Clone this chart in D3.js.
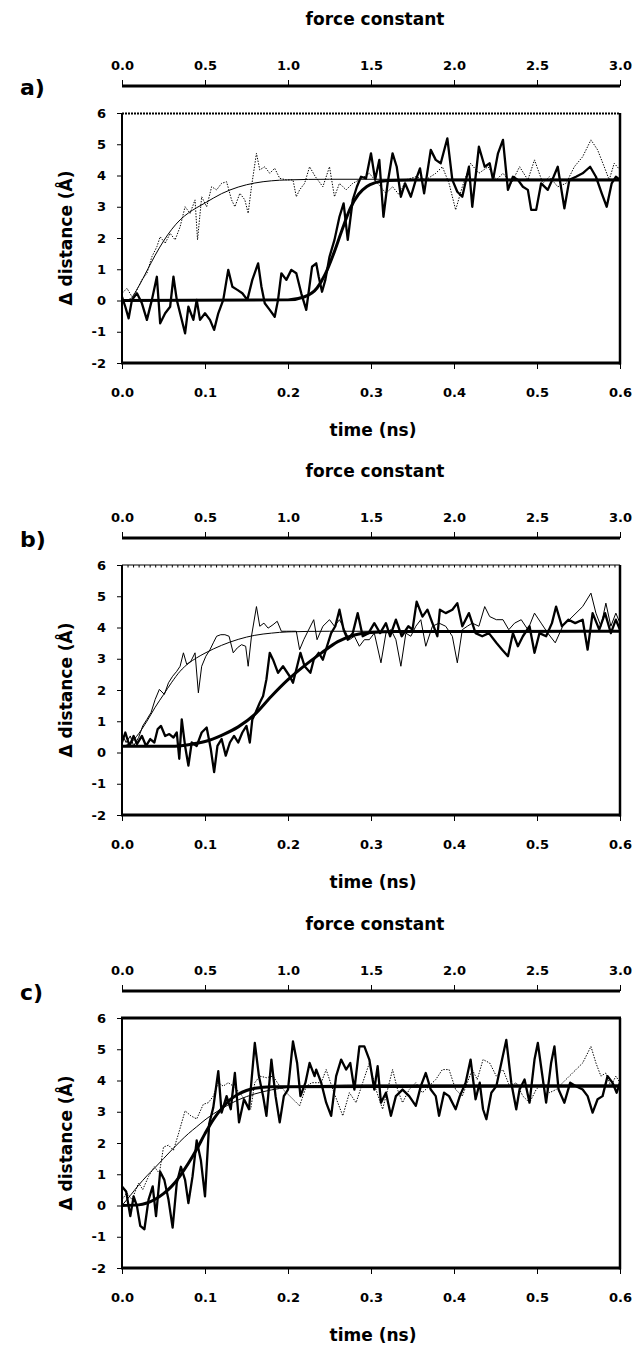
<!DOCTYPE html>
<html>
<head>
<meta charset="utf-8">
<script src="https://cdn.jsdelivr.net/npm/d3@7"></script>
<style>
body { margin: 0; background: #fff; }
svg { display: block; }
text { font-family: "DejaVu Sans", sans-serif; font-weight: bold; fill: #000; }
</style>
</head>
<body>
<script>
// tick labels
const timeTicks = [0, 0.1, 0.2, 0.3, 0.4, 0.5, 0.6]
const forceTicks = [0, 0.5, 1.0, 1.5, 2.0, 2.5, 3.0]
const distTicks = [-2, -1, 0, 1, 2, 3, 4, 5, 6]
const panelNames = ['a)', 'b)', 'c)']

// [time (ns), delta distance (A)]
const aThin = [[0,.23],[.006,.39],[.012,.12],[.018,.34],[.024,.66],[.03,.87],[.036,1.4],[.042,1.72],[.046,2.04],[.052,1.83],[.058,2.15],[.064,1.94],[.07,2.36],[.076,3.0],[.082,2.79],[.088,3.22],[.091,1.94],[.096,3.32],[.102,3.0],[.108,3.64],[.114,3.54],[.12,3.75],[.126,3.8],[.132,3.22],[.136,3.0],[.142,3.43],[.148,3.22],[.152,2.79],[.156,3.64],[.162,4.71],[.166,4.18],[.172,4.28],[.178,4.07],[.184,4.23],[.19,3.91],[.198,3.86],[.206,3.86],[.21,3.32],[.214,3.54],[.22,3.75],[.226,4.28],[.233,3.96],[.242,3.64],[.25,4.28],[.256,3.32],[.262,3.75],[.27,3.54],[.278,3.75],[.286,3.86],[.298,4.07],[.308,3.75],[.318,3.43],[.326,3.64],[.334,3.38],[.342,3.86],[.354,3.96],[.366,3.86],[.378,4.07],[.386,4.28],[.394,3.75],[.402,2.9],[.41,3.64],[.42,4.39],[.43,4.07],[.441,4.28],[.451,3.86],[.459,4.07],[.469,3.75],[.479,4.28],[.489,3.86],[.497,4.5],[.507,3.75],[.515,3.96],[.525,3.64],[.535,3.75],[.545,4.28],[.555,4.6],[.565,5.14],[.573,4.82],[.581,4.28],[.587,3.86],[.593,4.39],[.6,4.18]]
const aThinFit = [[0,0],[.01,.05],[.02,.45],[.03,.95],[.04,1.45],[.05,1.9],[.06,2.28],[.07,2.58],[.08,2.8],[.09,2.97],[.1,3.12],[.12,3.42],[.14,3.63],[.16,3.76],[.18,3.83],[.2,3.86],[.25,3.88],[.6,3.88]]
const aThick = [[0,.12],[.004,-.2],[.008,-.57],[.012,.02],[.018,.23],[.024,-.09],[.03,-.62],[.036,.02],[.042,.76],[.046,-.73],[.052,-.41],[.058,-.2],[.062,.76],[.066,.02],[.07,-.41],[.076,-1.05],[.08,-.2],[.086,-.62],[.09,.02],[.094,-.62],[.1,-.41],[.106,-.62],[.111,-.94],[.116,-.41],[.122,.02],[.128,.98],[.133,.44],[.139,.34],[.145,.23],[.151,.02],[.157,.66],[.164,1.19],[.168,.44],[.172,-.09],[.178,-.3],[.184,-.52],[.188,.02],[.192,.87],[.198,.66],[.204,.98],[.21,.87],[.216,.23],[.222,-.3],[.229,1.08],[.234,1.19],[.237,.76],[.241,.28],[.245,.66],[.25,1.4],[.256,1.94],[.262,2.68],[.267,3.11],[.272,1.94],[.278,3.22],[.283,3.64],[.288,3.96],[.294,3.91],[.3,4.71],[.305,3.86],[.31,4.5],[.315,2.68],[.32,3.75],[.326,4.71],[.331,4.28],[.336,3.32],[.341,3.75],[.348,3.32],[.354,3.86],[.359,4.23],[.364,3.43],[.372,4.82],[.378,4.5],[.384,4.39],[.392,5.19],[.398,3.86],[.404,3.48],[.41,3.32],[.418,4.28],[.422,3.0],[.43,4.92],[.437,4.28],[.443,4.39],[.447,3.86],[.453,4.71],[.459,5.14],[.465,3.54],[.471,3.96],[.477,3.86],[.483,3.64],[.489,3.54],[.493,2.9],[.499,2.9],[.505,3.75],[.513,3.54],[.52,3.96],[.525,4.28],[.533,2.95],[.539,3.86],[.547,3.96],[.555,4.07],[.564,4.28],[.571,3.96],[.578,3.43],[.584,3.0],[.59,3.75],[.595,3.96],[.6,3.86]]
const aThickFit = [[0,0],[.2,.02],[.22,.12],[.235,.4],[.245,.85],[.255,1.5],[.265,2.25],[.275,2.95],[.285,3.4],[.295,3.65],[.305,3.77],[.32,3.84],[.35,3.86],[.6,3.86]]

const bThin = [[0,.59],[.005,.32],[.01,.53],[.014,.21],[.02,.48],[.025,.85],[.03,1.06],[.035,1.28],[.04,1.7],[.045,2.02],[.051,1.86],[.056,2.23],[.061,2.44],[.066,2.6],[.07,2.76],[.074,3.19],[.078,2.82],[.083,2.92],[.088,3.19],[.092,1.91],[.096,2.76],[.101,3.08],[.106,3.29],[.11,3.51],[.114,3.72],[.119,3.77],[.124,3.77],[.129,3.72],[.134,3.19],[.139,3.35],[.144,3.45],[.149,3.4],[.152,2.76],[.156,3.72],[.162,4.67],[.166,4.04],[.171,4.14],[.176,3.98],[.182,4.09],[.187,4.2],[.192,3.88],[.198,3.88],[.204,3.88],[.21,3.88],[.214,3.29],[.219,3.61],[.224,3.88],[.231,4.25],[.235,3.61],[.242,4.04],[.25,4.25],[.256,4.04],[.262,4.25],[.268,3.93],[.274,3.61],[.28,3.72],[.286,3.4],[.292,3.61],[.298,3.61],[.304,3.82],[.312,2.87],[.318,3.82],[.324,3.93],[.33,3.61],[.336,2.76],[.342,3.82],[.348,3.72],[.354,4.04],[.36,4.25],[.366,3.4],[.374,4.04],[.382,4.14],[.39,4.04],[.398,3.72],[.404,2.87],[.41,3.93],[.416,4.04],[.422,4.14],[.43,4.04],[.437,4.67],[.443,4.35],[.451,4.25],[.459,4.25],[.466,3.93],[.473,4.14],[.481,4.25],[.489,3.93],[.497,4.46],[.505,4.14],[.513,3.82],[.522,3.51],[.531,4.04],[.539,4.25],[.547,4.46],[.555,4.67],[.565,5.1],[.571,4.46],[.577,4.04],[.583,4.78],[.589,4.04],[.595,4.46],[.6,4.14]]
const bThinFit = [[0,.2],[.01,.3],[.02,.6],[.03,1.0],[.04,1.45],[.05,1.85],[.06,2.25],[.07,2.6],[.08,2.85],[.09,3.03],[.1,3.18],[.12,3.43],[.14,3.62],[.16,3.75],[.18,3.82],[.2,3.86],[.25,3.88],[.6,3.88]]
const bThick = [[0,.32],[.004,.64],[.009,.21],[.014,.53],[.018,.27],[.024,.53],[.029,.21],[.034,.43],[.039,.32],[.043,.75],[.047,.85],[.052,.53],[.057,.59],[.062,.48],[.066,.64],[.069,-.2],[.072,1.06],[.076,.21],[.08,-.42],[.084,.32],[.09,.21],[.096,.64],[.102,.8],[.107,.11],[.111,-.63],[.115,.21],[.12,.43],[.125,-.1],[.13,.32],[.135,.53],[.14,.32],[.145,.64],[.15,.85],[.154,.32],[.157,1.06],[.161,1.28],[.166,1.59],[.17,1.81],[.174,2.34],[.178,3.19],[.182,2.97],[.188,2.55],[.194,2.76],[.198,2.6],[.202,2.44],[.206,2.23],[.211,2.76],[.215,3.19],[.22,2.76],[.227,2.55],[.231,2.97],[.237,3.19],[.242,2.97],[.247,3.4],[.252,3.82],[.257,4.04],[.262,4.57],[.267,3.93],[.272,3.61],[.278,3.82],[.284,4.46],[.29,3.72],[.297,3.82],[.304,4.14],[.311,3.82],[.318,4.14],[.323,3.72],[.33,4.25],[.337,3.72],[.345,4.04],[.35,3.93],[.355,4.83],[.362,4.35],[.368,4.57],[.374,4.14],[.38,3.72],[.383,4.57],[.39,4.46],[.398,4.57],[.404,4.78],[.41,4.04],[.418,4.46],[.426,3.82],[.434,3.72],[.442,3.82],[.451,3.51],[.458,3.29],[.465,3.08],[.471,3.82],[.477,3.4],[.483,3.72],[.491,4.04],[.497,3.19],[.503,3.82],[.511,3.72],[.518,4.14],[.523,4.67],[.53,4.04],[.538,4.25],[.546,4.14],[.555,4.25],[.561,3.29],[.567,4.46],[.575,3.93],[.582,4.46],[.589,3.82],[.595,4.25],[.6,3.93]]
const bThickFit = [[0,.2],[.06,.2],[.08,.25],[.1,.35],[.12,.55],[.14,.82],[.16,1.22],[.18,1.8],[.2,2.33],[.22,2.78],[.24,3.18],[.26,3.55],[.28,3.76],[.3,3.84],[.33,3.87],[.6,3.88]]

const cThin = [[0,.19],[.006,.4],[.012,.19],[.02,.72],[.025,.51],[.032,.93],[.039,1.24],[.045,1.03],[.05,1.87],[.056,1.93],[.062,1.77],[.068,2.29],[.076,3.03],[.083,2.87],[.09,2.77],[.098,3.24],[.104,3.29],[.11,3.5],[.116,3.93],[.122,3.82],[.128,3.93],[.134,3.82],[.142,3.61],[.15,3.29],[.155,3.08],[.16,3.93],[.166,4.14],[.174,4.09],[.182,4.14],[.19,3.82],[.198,3.61],[.206,3.4],[.214,3.19],[.222,3.82],[.229,3.93],[.24,3.93],[.246,4.35],[.254,3.71],[.266,2.87],[.274,3.61],[.282,3.29],[.29,3.93],[.298,4.56],[.306,3.71],[.314,3.08],[.32,3.71],[.326,4.35],[.332,3.71],[.338,3.29],[.346,3.71],[.354,3.93],[.362,3.61],[.37,3.82],[.378,4.03],[.386,4.35],[.394,4.35],[.402,3.71],[.41,3.5],[.416,3.93],[.422,4.35],[.428,4.03],[.435,4.67],[.443,4.56],[.451,4.14],[.459,4.35],[.467,3.82],[.475,3.93],[.483,3.5],[.491,3.29],[.499,3.71],[.507,3.93],[.515,3.61],[.523,3.71],[.531,3.93],[.539,4.14],[.547,4.35],[.555,4.56],[.565,5.09],[.571,4.56],[.577,4.14],[.583,4.24],[.589,3.82],[.595,4.14],[.6,3.93]]
const cThinFit = [[0,0],[.01,.32],[.02,.65],[.03,.95],[.04,1.22],[.05,1.5],[.06,1.78],[.07,2.05],[.08,2.3],[.09,2.52],[.1,2.74],[.11,2.93],[.12,3.1],[.13,3.25],[.14,3.38],[.16,3.57],[.18,3.7],[.2,3.78],[.24,3.84],[.3,3.86],[.6,3.86]]
const cThick = [[0,.61],[.005,.45],[.01,-.34],[.014,.29],[.018,-.02],[.022,-.65],[.027,-.76],[.032,.19],[.037,.61],[.041,-.34],[.046,1.08],[.051,.82],[.056,.19],[.061,-.71],[.066,.72],[.071,1.24],[.076,.82],[.08,.08],[.085,.93],[.09,2.08],[.095,1.45],[.1,.29],[.105,2.61],[.11,3.14],[.116,4.3],[.12,2.97],[.126,3.5],[.131,3.08],[.136,4.24],[.141,2.66],[.147,3.4],[.153,3.08],[.16,5.2],[.165,4.14],[.17,3.5],[.174,2.87],[.18,4.67],[.185,3.5],[.19,2.66],[.195,3.5],[.2,3.71],[.206,5.25],[.211,4.56],[.215,3.5],[.221,3.93],[.226,4.56],[.232,4.14],[.234,4.35],[.24,3.93],[.246,3.29],[.252,2.87],[.258,4.14],[.264,4.67],[.27,4.35],[.275,4.56],[.28,3.71],[.286,5.09],[.292,5.09],[.298,4.67],[.304,3.71],[.308,4.46],[.312,3.29],[.318,3.61],[.324,2.87],[.33,3.5],[.338,3.71],[.346,3.5],[.354,3.19],[.36,3.82],[.366,4.24],[.372,3.71],[.378,3.5],[.382,2.87],[.388,3.61],[.394,3.5],[.402,3.08],[.407,3.5],[.414,3.93],[.42,4.67],[.426,3.4],[.431,3.93],[.435,3.08],[.439,2.76],[.445,3.61],[.451,3.82],[.457,4.56],[.463,5.3],[.469,3.93],[.475,3.08],[.479,3.71],[.485,4.03],[.491,3.29],[.497,4.67],[.501,5.2],[.506,4.24],[.511,3.29],[.517,4.56],[.521,5.09],[.526,3.71],[.533,3.29],[.54,3.93],[.547,3.82],[.555,3.71],[.561,3.5],[.567,2.97],[.573,3.4],[.579,3.5],[.585,4.14],[.591,3.93],[.596,3.61],[.6,3.93]]
const cThickFit = [[0,0],[.02,.02],[.03,.08],[.04,.2],[.05,.38],[.06,.62],[.07,.95],[.08,1.35],[.09,1.8],[.1,2.3],[.11,2.75],[.12,3.1],[.13,3.38],[.14,3.56],[.15,3.68],[.16,3.75],[.18,3.8],[.6,3.82]]

// layout
const W = 636, H = 1345
const X0 = 122, X1 = 620
const PH = 250
const panelTops = [113, 565, 1018]
const thinDash = ['1.4,1.4', null, '1.4,1.4']
const topFrame = ['dotted', 'ticked', 'solid']

const svg = d3.select('body').append('svg')
  .attr('width', W)
  .attr('height', H)

const x = d3.scaleLinear().domain([0, 0.6]).range([X0, X1])
const k = d3.scaleLinear().domain([0, 3]).range([X0, X1])
const y = d3.scaleLinear().domain([-2, 6]).range([PH, 0])

const noisyLine = d3.line().x(d => x(d[0])).y(d => y(d[1]))
const fitLine = d3.line().x(d => x(d[0])).y(d => y(d[1])).curve(d3.curveMonotoneX)

const panels = [
  [aThin, aThinFit, aThick, aThickFit],
  [bThin, bThinFit, bThick, bThickFit],
  [cThin, cThinFit, cThick, cThickFit]
]

panels.forEach((p, i) => drawPanel(i, p))

function drawPanel(i, series) {
  const g = svg.append('g').attr('transform', `translate(0,${panelTops[i]})`)
  const [thin, thinFit, thick, thickFit] = series

  // curves
  g.append('path').datum(thin)
    .attr('d', noisyLine)
    .attr('fill', 'none')
    .attr('stroke', '#000')
    .attr('stroke-width', 1)
    .attr('stroke-dasharray', thinDash[i])
  g.append('path').datum(thinFit)
    .attr('d', fitLine)
    .attr('fill', 'none')
    .attr('stroke', '#000')
    .attr('stroke-width', 1)
  g.append('path').datum(thick)
    .attr('d', noisyLine)
    .attr('fill', 'none')
    .attr('stroke', '#000')
    .attr('stroke-width', 2.3)
    .attr('stroke-linejoin', 'round')
  g.append('path').datum(thickFit)
    .attr('d', fitLine)
    .attr('fill', 'none')
    .attr('stroke', '#000')
    .attr('stroke-width', 3)

  // bottom time axis
  const bottom = g.append('g').attr('transform', `translate(0,${PH})`)
  bottom.call(d3.axisBottom(x).tickValues(d3.range(0, 0.6001, 0.025)).tickSize(3).tickFormat(''))
  bottom.call(d3.axisBottom(x).tickValues(timeTicks).tickSize(6).tickPadding(19).tickFormat(d3.format('.1f')))
  bottom.selectAll('.domain').remove()

  // left distance axis
  const left = g.append('g').attr('transform', `translate(${X0},0)`)
  left.call(d3.axisLeft(y).tickValues(d3.range(-2, 6.001, 0.2)).tickSize(3).tickFormat(''))
  left.call(d3.axisLeft(y).tickValues(distTicks).tickSize(5).tickPadding(11).tickFormat(d => String(d)))
  left.selectAll('.domain').remove()

  // top force-constant axis
  const top = g.append('g').attr('transform', 'translate(0,-27)')
  top.call(d3.axisTop(k).tickValues(d3.range(0, 3.001, 0.1)).tickSize(3).tickFormat(''))
  top.call(d3.axisTop(k).tickValues(forceTicks).tickSize(6).tickPadding(10).tickFormat(d3.format('.1f')))
  top.selectAll('.domain').remove()
  top.append('line')
    .attr('x1', X0).attr('x2', X1)
    .attr('stroke', '#000').attr('stroke-width', 3)

  svg.selectAll('.tick text')
    .attr('font-size', 13)
    .attr('font-family', '"DejaVu Sans", sans-serif')
    .attr('font-weight', 'bold')

  // frame
  g.append('line').attr('x1', X0).attr('x2', X0).attr('y1', 0).attr('y2', PH)
    .attr('stroke', '#000').attr('stroke-width', 2)
  g.append('line').attr('x1', X1).attr('x2', X1).attr('y1', 0).attr('y2', PH + 1.5)
    .attr('stroke', '#000').attr('stroke-width', 2.5)
  g.append('line').attr('x1', X0 - 1).attr('x2', X1 + 1).attr('y1', PH).attr('y2', PH)
    .attr('stroke', '#000').attr('stroke-width', 3)

  if (topFrame[i] === 'solid') {
    g.append('line').attr('x1', X0 - 1).attr('x2', X1 + 1).attr('y1', 0).attr('y2', 0)
      .attr('stroke', '#000').attr('stroke-width', 3)
  } else if (topFrame[i] === 'dotted') {
    g.append('line').attr('x1', X0).attr('x2', X1).attr('y1', 0.5).attr('y2', 0.5)
      .attr('stroke', '#000').attr('stroke-width', 2).attr('stroke-dasharray', '2,1')
  } else {
    g.append('line').attr('x1', X0).attr('x2', X1).attr('y1', 0).attr('y2', 0)
      .attr('stroke', '#000').attr('stroke-width', 1.2)
    g.append('g').call(d3.axisBottom(x).tickValues(d3.range(0, 0.6001, 0.6 / 90)).tickSize(2.5).tickFormat(''))
      .selectAll('.domain').remove()
  }

  // titles
  g.append('text')
    .attr('x', (X0 + X1) / 2 + 4).attr('y', -88)
    .attr('text-anchor', 'middle').attr('font-size', 17)
    .text('force constant')
  g.append('text')
    .attr('x', (X0 + X1) / 2 + 2).attr('y', PH + 73)
    .attr('text-anchor', 'middle').attr('font-size', 17)
    .text('time (ns)')
  g.append('text')
    .attr('transform', `translate(66,${PH / 2}) rotate(-90)`)
    .attr('dy', '0.35em')
    .attr('text-anchor', 'middle').attr('font-size', 17)
    .text('\u0394 distance (\u00c5)')
  g.append('text')
    .attr('x', 20).attr('y', -18)
    .attr('font-size', 22)
    .text(panelNames[i])
}
</script>
</body>
</html>
